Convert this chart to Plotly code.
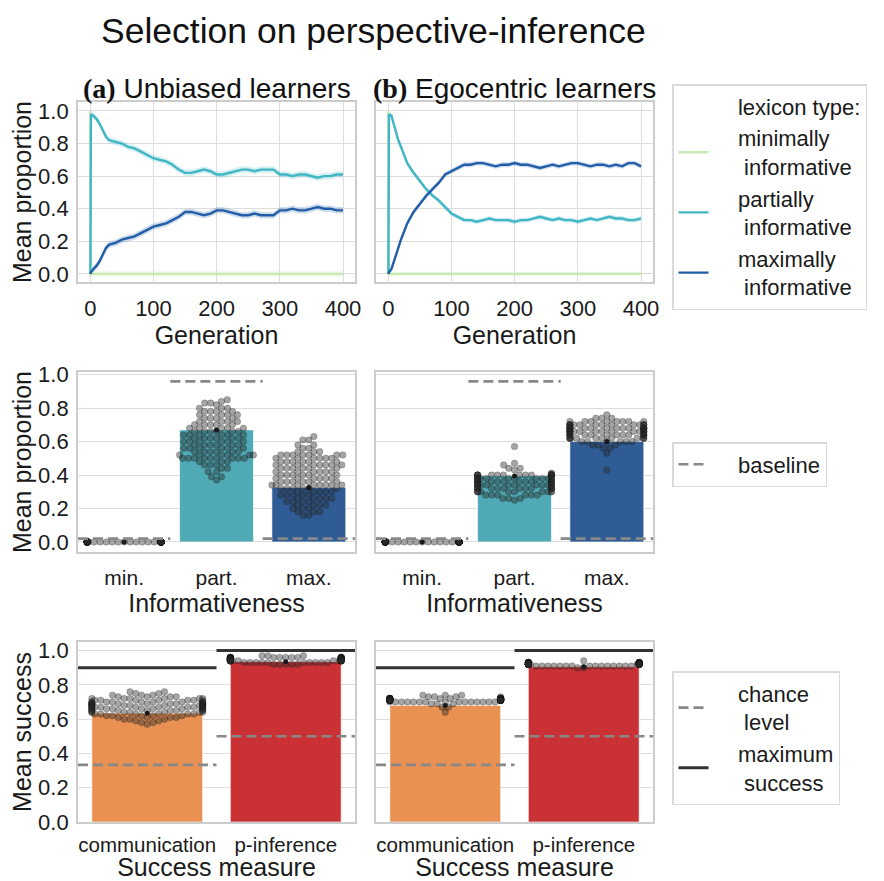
import numpy as np
import plotly.graph_objects as go

# ---------------- data ----------------
GENS = [0, 1, 5, 10, 15, 20, 25, 30, 40, 50, 60, 70, 80, 90, 100, 110, 120, 130, 140, 150,
        160, 170, 180, 190, 200, 210, 220, 230, 240, 250, 260, 270, 280, 290, 300,
        310, 320, 330, 340, 350, 360, 370, 380, 390, 400]

A_MIN = [1.0, 0, 0, 0, 0, 0, 0, 0, 0, 0, 0, 0, 0, 0, 0, 0, 0, 0, 0, 0, 0, 0, 0, 0, 0,
         0, 0, 0, 0, 0, 0, 0, 0, 0, 0, 0, 0, 0, 0, 0, 0, 0, 0, 0, 0]
A_PART = [0.0, 0.98, 0.97, 0.95, 0.92, 0.88, 0.84, 0.82, 0.81, 0.80, 0.78, 0.77, 0.75, 0.73,
          0.71, 0.70, 0.69, 0.67, 0.64, 0.62, 0.62, 0.63, 0.64, 0.63, 0.61, 0.61, 0.62, 0.63,
          0.64, 0.64, 0.63, 0.64, 0.64, 0.64, 0.61, 0.61, 0.60, 0.61, 0.61, 0.60, 0.59, 0.60,
          0.60, 0.61, 0.61]
A_MAX = [0.0, 0.01, 0.03, 0.05, 0.08, 0.12, 0.16, 0.18, 0.19, 0.21, 0.22, 0.23, 0.25, 0.27,
         0.29, 0.30, 0.31, 0.33, 0.35, 0.38, 0.38, 0.37, 0.36, 0.37, 0.39, 0.39, 0.38, 0.37,
         0.36, 0.36, 0.37, 0.36, 0.36, 0.36, 0.39, 0.39, 0.40, 0.39, 0.39, 0.40, 0.41, 0.40,
         0.40, 0.39, 0.39]
B_MIN = [1.0, 0, 0, 0, 0, 0, 0, 0, 0, 0, 0, 0, 0, 0, 0, 0, 0, 0, 0, 0, 0, 0, 0, 0, 0,
         0, 0, 0, 0, 0, 0, 0, 0, 0, 0, 0, 0, 0, 0, 0, 0, 0, 0, 0, 0]
B_PART = [0.0, 0.98, 0.97, 0.90, 0.83, 0.78, 0.73, 0.68, 0.62, 0.57, 0.52, 0.48, 0.45, 0.41,
          0.37, 0.35, 0.33, 0.33, 0.32, 0.33, 0.34, 0.33, 0.33, 0.33, 0.32, 0.33, 0.33, 0.34,
          0.35, 0.34, 0.33, 0.34, 0.33, 0.33, 0.32, 0.33, 0.34, 0.33, 0.34, 0.35, 0.34, 0.34,
          0.33, 0.33, 0.34]
B_MAX = [0.0, 0.01, 0.03, 0.09, 0.16, 0.21, 0.26, 0.31, 0.38, 0.43, 0.48, 0.52, 0.56, 0.61,
         0.63, 0.65, 0.67, 0.67, 0.68, 0.68, 0.67, 0.66, 0.67, 0.67, 0.68, 0.67, 0.67, 0.66,
         0.65, 0.66, 0.67, 0.66, 0.67, 0.68, 0.68, 0.67, 0.66, 0.67, 0.67, 0.66, 0.67, 0.66,
         0.68, 0.68, 0.66]
CI_A = 0.02
CI_B = 0.015

SP = "&nbsp;" * 4
LEX_TITLE = SP + "lexicon type:"
LEX_NAMES = [SP + "minimally<br>" + SP + "&nbsp;informative",
             SP + "partially<br>" + SP + "&nbsp;informative",
             SP + "maximally<br>" + SP + "&nbsp;informative"]
BASE_NAME = SP + "baseline"
CHANCE_NAME = SP + "chance<br>" + SP + "&nbsp;level"
MAXS_NAME = SP + "maximum<br>" + SP + "&nbsp;success"

INFO_CATS = ["min.", "part.", "max."]
PROP_BAR_A = [0.0, 0.67, 0.325]
PROP_BAR_B = [0.0, 0.395, 0.60]
BASELINE = [0.02, 0.96, 0.02]

# swarm distributions (value -> number of runs)
SW_A_MIN = ([0.0], [100])
SW_A_PART = ([0.85, 0.84, 0.83, 0.82, 0.80, 0.78, 0.76, 0.74, 0.72, 0.70, 0.68, 0.66, 0.64,
              0.62, 0.60, 0.58, 0.56, 0.54, 0.52, 0.50, 0.48, 0.46, 0.44, 0.42, 0.39, 0.37],
             [1, 1, 2, 1, 3, 4, 4, 4, 4, 5, 5, 6, 6, 6, 6, 6, 6, 6, 6, 9, 3, 3, 2, 2, 2, 1])
SW_A_MAX = ([0.63, 0.61, 0.58, 0.56, 0.54, 0.52, 0.50, 0.48, 0.46, 0.44, 0.42, 0.40, 0.38,
             0.36, 0.34, 0.32, 0.30, 0.28, 0.26, 0.24, 0.22, 0.20, 0.18, 0.16],
            [1, 2, 2, 2, 3, 7, 6, 6, 7, 6, 6, 6, 6, 6, 8, 6, 5, 5, 5, 4, 4, 3, 3, 2])
SW_B_MIN = ([0.0], [100])
SW_B_PART = ([0.57, 0.47, 0.46, 0.44, 0.43, 0.41, 0.40, 0.38, 0.36, 0.34, 0.32, 0.30, 0.28,
              0.26, 0.25],
             [1, 1, 1, 2, 1, 2, 14, 14, 14, 14, 13, 10, 6, 3, 1])
SW_B_MAX = ([0.76, 0.74, 0.72, 0.70, 0.68, 0.66, 0.64, 0.62, 0.60, 0.58, 0.56, 0.53, 0.43],
            [1, 3, 8, 14, 16, 16, 14, 12, 6, 3, 2, 1, 1])

SUCC_CATS = ["communication", "p-inference"]
SUCC_BAR_A = [0.635, 0.935]
SUCC_BAR_B = [0.68, 0.905]
CHANCE = [1 / 3, 0.5]
MAX_SUCCESS = [0.9, 1.0]
SW_A_COMM = ([0.76, 0.75, 0.74, 0.73, 0.72, 0.71, 0.70, 0.69, 0.68, 0.67, 0.66, 0.65, 0.64,
              0.63, 0.62, 0.61, 0.60, 0.59, 0.58, 0.57],
             [2, 2, 3, 4, 6, 7, 9, 10, 10, 10, 9, 8, 7, 6, 5, 4, 3, 2, 2, 1])
SW_A_PINF = ([0.97, 0.96, 0.95, 0.94, 0.93, 0.92], [3, 20, 40, 20, 10, 5])
SW_B_COMM = ([0.74, 0.73, 0.72, 0.71, 0.70, 0.69, 0.67, 0.64], [3, 4, 30, 40, 15, 3, 2, 1])
SW_B_PINF = ([0.94, 0.93, 0.92, 0.91, 0.90], [1, 20, 40, 15, 2])

# ---------------- style / layout ----------------
PAGE_W, PAGE_H = 884, 881
OX, OY = 8, 8                      # default page margin of the html body
W, H = PAGE_W - OX, PAGE_H - OY
COLS = [(78, 355), (376, 653)]
ROWS = [(102, 282), (372, 552), (642, 822)]
FONT = "Liberation Sans, Arial, sans-serif"
C_MIN, C_PART, C_MAX = "#c7e9b4", "#41b6c4", "#225ea8"
BAR_PART, BAR_MAX = "rgb(79,170,181)", "rgb(48,92,150)"
BAR_COMM, BAR_PINF = "rgb(232,145,83)", "rgb(201,49,52)"
RANGES_Y = [(-0.05, 1.055), (-0.06, 1.016), (0.0, 1.05)]
RANGES_X = [(-19.5, 419), (-0.5, 2.5), (-0.5, 1.5)]


def fx(px):
    return (px - OX) / W


def fy(py):
    return 1 - (py - OY) / H


def rgba(hexc, a):
    h = hexc.lstrip("#")
    return "rgba(%d,%d,%d,%s)" % (int(h[0:2], 16), int(h[2:4], 16), int(h[4:6], 16), a)


def swarm_offsets(values, px_y, px_x, diam=6.0, halfwidth=0.4):
    v = np.asarray(values, float)
    ys = v * px_y
    order = np.argsort(ys, kind="stable")
    placed = []
    out = np.zeros(len(v))
    for i in order:
        y = ys[i]
        nb = [(px, py) for px, py in placed if abs(py - y) < diam]
        cands = [0.0]
        for px, py in nb:
            dx = np.sqrt(max(diam ** 2 - (py - y) ** 2, 0.0))
            cands += [px - dx, px + dx]
        cands = sorted(cands, key=lambda c: (round(abs(c), 6), c))
        chosen = cands[-1]
        for c in cands:
            if all((c - px) ** 2 + (y - py) ** 2 >= diam ** 2 - 1e-6 for px, py in nb):
                chosen = c
                break
        placed.append((chosen, y))
        out[i] = chosen
    lim = halfwidth * px_x
    return np.clip(out, -lim, lim) / px_x


fig = go.Figure()


def axn(r, c):
    k = r * 2 + c + 1
    return ("x" if k == 1 else "x%d" % k), ("y" if k == 1 else "y%d" % k)


# ---- row 1: time series ----
for c, (mn, pa, mx, ci) in enumerate([(A_MIN, A_PART, A_MAX, CI_A), (B_MIN, B_PART, B_MAX, CI_B)]):
    xa, ya = axn(0, c)
    if c == 0:
        fig.add_trace(go.Scatter(x=[None], y=[None], mode="lines", name=LEX_TITLE,
                                 line=dict(color="rgba(0,0,0,0)", width=2),
                                 legend="legend", showlegend=True, xaxis=xa, yaxis=ya))
    for series, col in [(mn, C_MIN), (pa, C_PART), (mx, C_MAX)]:
        s = np.array(series, float)
        fig.add_trace(go.Scatter(x=GENS, y=s - ci, mode="lines", line=dict(width=0),
                                 showlegend=False, hoverinfo="skip", xaxis=xa, yaxis=ya))
        fig.add_trace(go.Scatter(x=GENS, y=s + ci, mode="lines", line=dict(width=0),
                                 fill="tonexty", fillcolor=rgba(col, 0.22),
                                 showlegend=False, hoverinfo="skip", xaxis=xa, yaxis=ya))
    for series, col, nm in [(mn, C_MIN, LEX_NAMES[0]), (pa, C_PART, LEX_NAMES[1]),
                            (mx, C_MAX, LEX_NAMES[2])]:
        fig.add_trace(go.Scatter(x=GENS, y=series, mode="lines", name=nm,
                                 line=dict(color=col, width=2.4),
                                 legend="legend", showlegend=(c == 0), xaxis=xa, yaxis=ya))


def px_scales(r):
    (x0, x1), (y0, y1) = COLS[0], ROWS[r]
    return (y1 - y0) / (RANGES_Y[r][1] - RANGES_Y[r][0]), (x1 - x0) / (RANGES_X[r][1] - RANGES_X[r][0])


def add_swarm(r, c, cat_idx, dist):
    xa, ya = axn(r, c)
    vals = np.repeat(np.array(dist[0], float), dist[1])
    py, pxx = px_scales(r)
    off = swarm_offsets(vals, py, pxx)
    fig.add_trace(go.Scatter(x=cat_idx + off, y=vals, mode="markers", showlegend=False,
                             marker=dict(size=6.5, color="rgba(40,40,40,0.42)",
                                         line=dict(color="rgba(20,20,20,0.35)", width=0.6)),
                             hoverinfo="skip", xaxis=xa, yaxis=ya))


# ---- row 2: informativeness bars ----
for c, (bars, dists) in enumerate([(PROP_BAR_A, [SW_A_MIN, SW_A_PART, SW_A_MAX]),
                                   (PROP_BAR_B, [SW_B_MIN, SW_B_PART, SW_B_MAX])]):
    xa, ya = axn(1, c)
    fig.add_trace(go.Bar(x=[0, 1, 2], y=bars, width=0.8, showlegend=False,
                         marker=dict(color=["#999999", BAR_PART, BAR_MAX],
                                     line=dict(color="rgba(255,255,255,0.6)", width=1)),
                         xaxis=xa, yaxis=ya))
    for k, d in enumerate(dists):
        add_swarm(1, c, k, d)
    fig.add_trace(go.Scatter(x=[0, 1, 2], y=bars, mode="markers", showlegend=False,
                             marker=dict(size=5, color="#1a1a1a"), xaxis=xa, yaxis=ya))
    bx, by = [], []
    for k, b in enumerate(BASELINE):
        bx += [k - 0.5, k + 0.5, None]
        by += [b, b, None]
    fig.add_trace(go.Scatter(x=bx, y=by, mode="lines", name=BASE_NAME,
                             line=dict(color="#888888", width=2.6, dash="10px,5px"),
                             legend="legend2", showlegend=(c == 0), xaxis=xa, yaxis=ya))

# ---- row 3: success bars ----
for c, (bars, dists) in enumerate([(SUCC_BAR_A, [SW_A_COMM, SW_A_PINF]),
                                   (SUCC_BAR_B, [SW_B_COMM, SW_B_PINF])]):
    xa, ya = axn(2, c)
    fig.add_trace(go.Bar(x=[0, 1], y=bars, width=0.8, showlegend=False,
                         marker=dict(color=[BAR_COMM, BAR_PINF],
                                     line=dict(color="rgba(255,255,255,0.6)", width=1)),
                         xaxis=xa, yaxis=ya))
    for k, d in enumerate(dists):
        add_swarm(2, c, k, d)
    fig.add_trace(go.Scatter(x=[0, 1], y=bars, mode="markers", showlegend=False,
                             marker=dict(size=5, color="#1a1a1a"), xaxis=xa, yaxis=ya))
    cx, cy, mx_, my_ = [], [], [], []
    for k in range(2):
        cx += [k - 0.5, k + 0.5, None]
        cy += [CHANCE[k], CHANCE[k], None]
        mx_ += [k - 0.5, k + 0.5, None]
        my_ += [MAX_SUCCESS[k], MAX_SUCCESS[k], None]
    fig.add_trace(go.Scatter(x=cx, y=cy, mode="lines", name=CHANCE_NAME,
                             line=dict(color="#888888", width=2.6, dash="10px,5px"),
                             legend="legend3", showlegend=(c == 0), xaxis=xa, yaxis=ya))
    fig.add_trace(go.Scatter(x=mx_, y=my_, mode="lines", name=MAXS_NAME,
                             line=dict(color="#333333", width=3),
                             legend="legend3", showlegend=(c == 0), xaxis=xa, yaxis=ya))

# ---------------- axes ----------------
common = dict(showline=True, mirror=True, linecolor="#CCCCCC", linewidth=1.8,
              gridcolor="#DDDDDD", gridwidth=1, zeroline=False, automargin=False,
              tickfont=dict(family=FONT, size=22, color="#1a1a1a"))
layout_axes = {}
TITLE_Y = ["Mean proportion", "Mean proportion", "Mean success"]
TITLE_X = ["Generation", "Informativeness", "Success measure"]
for r in range(3):
    for c in range(2):
        k = r * 2 + c + 1
        xk = "xaxis" if k == 1 else "xaxis%d" % k
        yk = "yaxis" if k == 1 else "yaxis%d" % k
        xa, ya = axn(r, c)
        xd = dict(common, domain=[fx(COLS[c][0]), fx(COLS[c][1])], range=list(RANGES_X[r]),
                  anchor=ya, ticks="outside", ticklen=6, tickcolor="rgba(0,0,0,0)",
                  title=dict(text=TITLE_X[r], font=dict(family=FONT, size=25, color="#1a1a1a"),
                             standoff=2))
        if r == 0:
            xd.update(tickvals=[0, 100, 200, 300, 400], showgrid=True)
        elif r == 1:
            xd.update(tickvals=[0, 1, 2], ticktext=INFO_CATS, showgrid=False,
                      tickfont=dict(family=FONT, size=21, color="#1a1a1a"))
        else:
            xd.update(tickvals=[0, 1], ticktext=SUCC_CATS, showgrid=False, ticklen=3,
                      tickfont=dict(family=FONT, size=20.5, color="#1a1a1a"))
        yd = dict(common, domain=[fy(ROWS[r][1]), fy(ROWS[r][0])], range=list(RANGES_Y[r]),
                  anchor=xa, tickvals=[0, 0.2, 0.4, 0.6, 0.8, 1.0], tickformat=".1f",
                  ticks="outside", ticklen=3, tickcolor="rgba(0,0,0,0)",
                  showticklabels=(c == 0))
        if c == 0:
            yd["title"] = dict(text=TITLE_Y[r], font=dict(family=FONT, size=25, color="#1a1a1a"),
                               standoff=6)
        layout_axes[xk] = xd
        layout_axes[yk] = yd

leg_common = dict(bgcolor="white", bordercolor="#DADADA", borderwidth=1.5,
                  font=dict(family=FONT, size=22, color="#1a1a1a"),
                  xanchor="left", yanchor="top", x=fx(672), traceorder="normal")

fig.update_layout(
    width=W, height=H, margin=dict(l=0, r=0, t=0, b=0),
    paper_bgcolor="white", plot_bgcolor="white",
    font=dict(family=FONT, color="#1a1a1a"),
    barmode="overlay",
    legend=dict(leg_common, y=fy(84), tracegroupgap=0),
    legend2=dict(leg_common, y=fy(442)),
    legend3=dict(leg_common, y=fy(671)),
    annotations=[
        dict(text="Selection on perspective-inference", x=fx(373), y=fy(9),
             xref="paper", yref="paper", showarrow=False, xanchor="center", yanchor="top",
             font=dict(family=FONT, size=35.5, color="#111111")),
        dict(text="<span style=\"font-family:'Liberation Serif'\"><b>(a)</b></span> Unbiased learners",
             x=fx((COLS[0][0] + COLS[0][1]) / 2), y=fy(88), xref="paper", yref="paper",
             showarrow=False, xanchor="center", yanchor="middle",
             font=dict(family=FONT, size=28, color="#111111")),
        dict(text="<span style=\"font-family:'Liberation Serif'\"><b>(b)</b></span> Egocentric learners",
             x=fx((COLS[1][0] + COLS[1][1]) / 2), y=fy(88), xref="paper", yref="paper",
             showarrow=False, xanchor="center", yanchor="middle",
             font=dict(family=FONT, size=28, color="#111111")),
    ],
    **layout_axes,
)

fig.write_html("out.html")
